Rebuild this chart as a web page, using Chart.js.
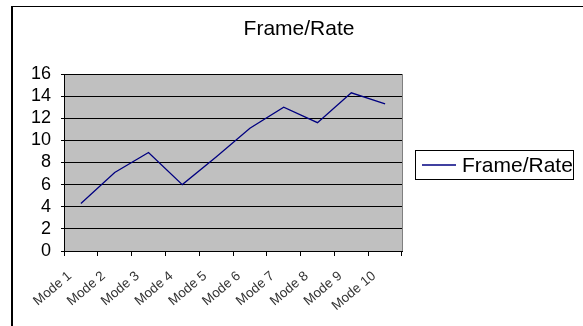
<!DOCTYPE html>
<html>
<head>
<meta charset="utf-8">
<script src="https://cdn.jsdelivr.net/npm/chart.js@4"></script>
<style>
  html, body { margin: 0; padding: 0; background: #fff; overflow: hidden; }
  #wrap { position: relative; width: 583px; height: 326px; }
  #frame {
    position: absolute; left: 11px; top: 6px; width: 700px; height: 400px;
    border-left: 2px solid #000; border-top: 1px solid #000;
    pointer-events: none;
  }
  canvas { position: absolute; left: 0; top: 0; }
</style>
</head>
<body>
<div id="wrap">
  <canvas id="chart" width="583" height="326"></canvas>
  <div id="frame"></div>
</div>
<script>
const categories = ['Mode 1','Mode 2','Mode 3','Mode 4','Mode 5','Mode 6','Mode 7','Mode 8','Mode 9','Mode 10']
const frameRate = [4.3, 7.1, 8.9, 6.0, 8.5, 11.1, 13.0, 11.6, 14.3, 13.3]
const seriesName = 'Frame/Rate'
const chartTitle = 'Frame/Rate'

const FONT = "'Liberation Sans', Arial, sans-serif"

// grey plot area with a grey outer frame
const plotBg = {
  id: 'plotBg',
  beforeDraw(chart) {
    const { ctx, chartArea: a } = chart
    ctx.save()
    ctx.fillStyle = '#c0c0c0'
    ctx.fillRect(a.left, a.top, a.right - a.left, a.bottom - a.top)
    ctx.strokeStyle = '#808080'
    ctx.lineWidth = 1
    ctx.strokeRect(a.left + 0.5, a.top + 0.5, a.right - a.left, a.bottom - a.top)
    ctx.restore()
  }
}

// title centred on the whole sheet, not the plot
const sheetTitle = {
  id: 'sheetTitle',
  afterDraw(chart) {
    const { ctx } = chart
    ctx.save()
    ctx.fillStyle = '#000'
    ctx.font = '21px ' + FONT
    ctx.textAlign = 'center'
    ctx.textBaseline = 'alphabetic'
    ctx.fillText(chartTitle, 299, 35)
    ctx.restore()
  }
}

// boxed legend on the right, like the spreadsheet one
const boxLegend = {
  id: 'boxLegend',
  afterDraw(chart) {
    const { ctx } = chart
    const ds = chart.data.datasets[0]
    const x = 415, y = 150, w = 158, h = 29
    ctx.save()
    ctx.fillStyle = '#fff'
    ctx.fillRect(x, y, w, h)
    ctx.strokeStyle = '#000'
    ctx.lineWidth = 1
    ctx.strokeRect(x + 0.5, y + 0.5, w, h)
    ctx.strokeStyle = ds.borderColor
    ctx.lineWidth = 1.3
    ctx.beginPath()
    ctx.moveTo(x + 7, y + h / 2 + 0.5)
    ctx.lineTo(x + 41, y + h / 2 + 0.5)
    ctx.stroke()
    ctx.fillStyle = '#000'
    ctx.font = '21px ' + FONT
    ctx.textBaseline = 'alphabetic'
    ctx.fillText(ds.label, x + 47, y + 22)
    ctx.restore()
  }
}

new Chart(document.getElementById('chart'), {
  type: 'line',
  data: {
    labels: categories,
    datasets: [{
      label: seriesName,
      data: frameRate,
      borderColor: '#000080',
      borderWidth: 1.3,
      pointRadius: 0,
      tension: 0,
      fill: false
    }]
  },
  options: {
    responsive: false,
    animation: false,
    layout: { padding: { left: 0, right: 181, top: 74, bottom: 0 } },
    plugins: {
      legend: { display: false },
      tooltip: { enabled: false },
      title: { display: false }
    },
    scales: {
      x: {
        offset: true,
        grid: {
          offset: true,
          drawOnChartArea: false,
          drawTicks: true,
          tickLength: 5,
          color: '#000'
        },
        border: { color: '#000', width: 1 },
        ticks: {
          color: '#333',
          font: { family: FONT, size: 13.5 },
          maxRotation: 40,
          minRotation: 40,
          autoSkip: false,
          labelOffset: -11,
          padding: 12
        },
        afterFit(scale) { scale.height = 75 }
      },
      y: {
        min: 0,
        max: 16,
        grid: {
          color: '#000',
          lineWidth: 1,
          drawTicks: true,
          tickLength: 3
        },
        border: { color: '#000', width: 1 },
        ticks: {
          stepSize: 2,
          autoSkip: false,
          color: '#000',
          font: { family: FONT, size: 18 },
          padding: 10
        },
        afterFit(scale) { scale.width = 64 }
      }
    }
  },
  plugins: [plotBg, sheetTitle, boxLegend]
})
</script>
</body>
</html>
